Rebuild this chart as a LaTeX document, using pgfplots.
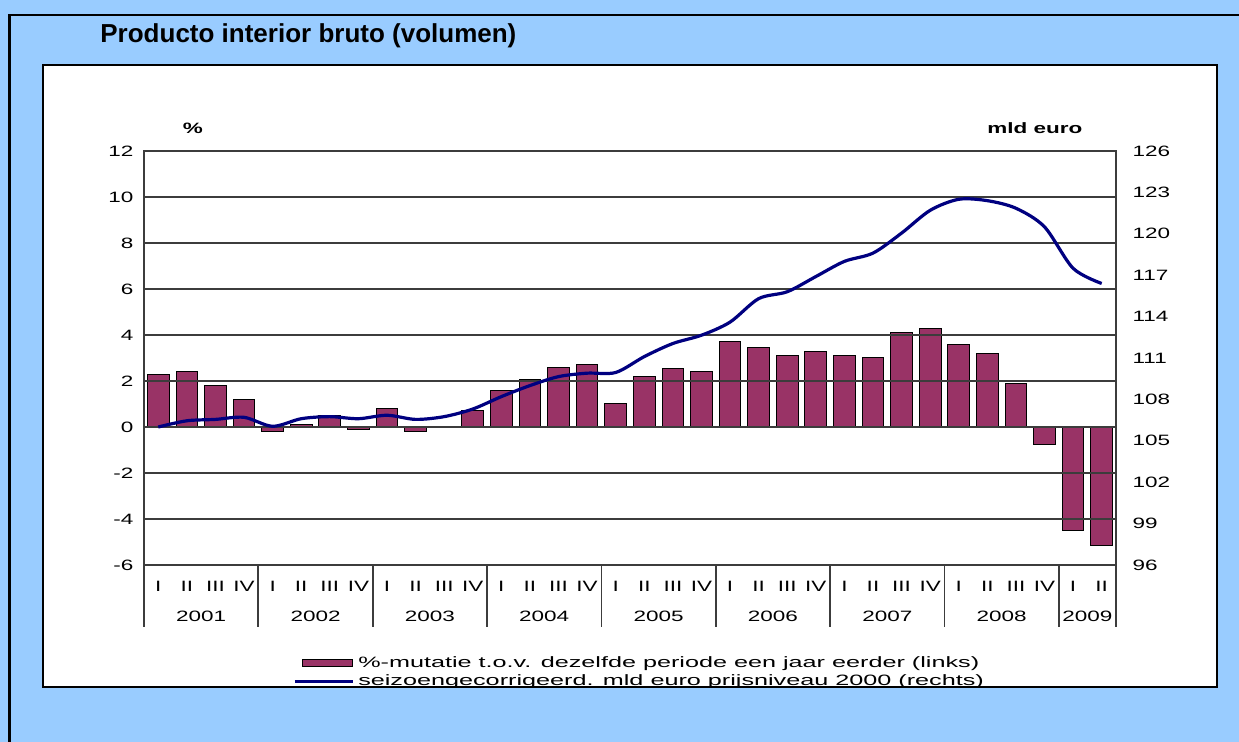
\documentclass[border=0pt]{standalone}
\usepackage{fontspec}
\setmainfont{Liberation Sans}
\usepackage{graphicx}
\usepackage{pgfplots}
\pgfplotsset{compat=1.18}

\definecolor{bgblue}{RGB}{153,204,255}
\definecolor{barcol}{RGB}{153,51,102}
\definecolor{linecol}{RGB}{0,0,128}
\definecolor{gridcol}{RGB}{60,60,60}

\newcommand{\tk}{\fontsize{7.5}{9}\selectfont}
\newcommand{\legtxt}[1]{\scalebox{1.68}[1]{#1}}

\begin{document}
\begin{tikzpicture}
\path[use as bounding box] (0,0) rectangle (619.5pt,371pt);
% background, px coordinates with origin top left
\begin{scope}[x=0.5pt,y=-0.5pt,shift={(0,371pt)}]
  \fill[bgblue] (0,0) rectangle (1239,742);
  \fill[white] (43,65) rectangle (1217,687);
  \node[anchor=base west, inner sep=0, font=\fontsize{13}{15}\selectfont\bfseries]
    at (100,42.5) {Producto interior bruto (volumen)};
  \node[font=\tk\bfseries, xscale=1.5] at (193,128) {\%};
  \node[anchor=east, inner sep=0, font=\tk\bfseries, xscale=1.5] at (1083,128) {mld euro};
\end{scope}

\begin{axis}[
  at={(72pt,88.5pt)}, anchor=south west,
  width=486pt, height=207pt, scale only axis,
  xmin=-0.5, xmax=33.5, ymin=-6, ymax=12,
  ytick={-6,-4,...,12},
  xtick={0,...,33},
  xticklabels={I,II,III,IV,I,II,III,IV,I,II,III,IV,I,II,III,IV,I,II,III,IV,
               I,II,III,IV,I,II,III,IV,I,II,III,IV,I,II},
  extra x ticks={1.5,5.5,9.5,13.5,17.5,21.5,25.5,29.5,32.5},
  extra x tick labels={2001,2002,2003,2004,2005,2006,2007,2008,2009},
  extra x tick style={xticklabel style={yshift=-15pt}},
  major tick length=0pt,
  ymajorgrids, grid style={gridcol, line width=0.6pt},
  axis line style={gridcol, line width=0.9pt},
  axis on top,
  clip=false,
  tick label style={font=\tk, xscale=1.5},
  /pgf/number format/assume math mode=true,
  xticklabel style={anchor=center, yshift=-10.5pt},
  yticklabel style={xshift=0pt},
  legend style={at={(axis description cs:0.147,-0.2)}, anchor=north west,
    draw=none, fill=none, font=\fontsize{7.5}{8.5}\selectfont, row sep=-1.5pt},
  legend cell align=left,
]
\addplot[ybar, bar width=0.76, fill=barcol, draw=black, line width=0.5pt,
  legend image code/.code={\draw[fill=barcol,draw=black,line width=0.5pt] (4pt,-1.8pt) rectangle (29pt,1.8pt);}]
  coordinates {
  (0,2.3) (1,2.4) (2,1.8) (3,1.2)
  (4,-0.2) (5,0.1) (6,0.5) (7,-0.1)
  (8,0.8) (9,-0.2) (10,0.0) (11,0.7)
  (12,1.6) (13,2.05) (14,2.6) (15,2.7)
  (16,1.0) (17,2.2) (18,2.55) (19,2.4)
  (20,3.7) (21,3.45) (22,3.1) (23,3.3)
  (24,3.1) (25,3.0) (26,4.1) (27,4.3)
  (28,3.6) (29,3.2) (30,1.9) (31,-0.75)
  (32,-4.5) (33,-5.15)
};
\addlegendentry{\legtxt{\%-mutatie t.o.v. dezelfde periode een jaar eerder (links)}}
\addlegendimage{linecol, line width=1.5pt,
  legend image code/.code={\draw[linecol,line width=1.5pt] (0pt,0pt) -- (29pt,0pt);}}
\addlegendentry{\legtxt{seizoengecorrigeerd. mld euro prijsniveau 2000 (rechts)}}
\pgfplotsinvokeforeach{-0.5,3.5,7.5,11.5,15.5,19.5,23.5,27.5,31.5,33.5}{
  \draw[gridcol, line width=0.9pt] (axis cs:#1,-6) -- ([yshift=-31pt]axis cs:#1,-6);
}
\end{axis}

\begin{axis}[
  at={(72pt,88.5pt)}, anchor=south west,
  width=486pt, height=207pt, scale only axis,
  xmin=-0.5, xmax=33.5, ymin=96, ymax=126,
  ytick={96,99,...,126},
  axis y line*=right, axis x line=none,
  major tick length=0pt,
  axis line style={gridcol, line width=0.9pt},
  tick label style={font=\tk, xscale=1.5},
  /pgf/number format/assume math mode=true,
  yticklabel style={xshift=2pt},
]
\addplot[linecol, line width=1.6pt, smooth, tension=0.5] coordinates {
  (0,106.0) (1,106.45) (2,106.55) (3,106.7)
  (4,106.05) (5,106.6) (6,106.75) (7,106.6)
  (8,106.85) (9,106.55) (10,106.75) (11,107.3)
  (12,108.2) (13,109.0) (14,109.65) (15,109.9)
  (16,109.95) (17,111.1) (18,112.05) (19,112.65)
  (20,113.6) (21,115.3) (22,115.8) (23,116.9)
  (24,118.0) (25,118.6) (26,120.05) (27,121.7)
  (28,122.5) (29,122.4) (30,121.85) (31,120.5)
  (32,117.5) (33,116.4)
};
\end{axis}

% covers and frames
\begin{scope}[x=0.5pt,y=-0.5pt,shift={(0,371pt)}]
  \fill[bgblue] (0,688) rectangle (1239,742);
  \draw[black, line width=1.2pt] (43,65) rectangle (1217,687);
  \draw[black, line width=1.2pt] (9.5,15) rectangle (1260,760);
\end{scope}
\end{tikzpicture}
\end{document}
